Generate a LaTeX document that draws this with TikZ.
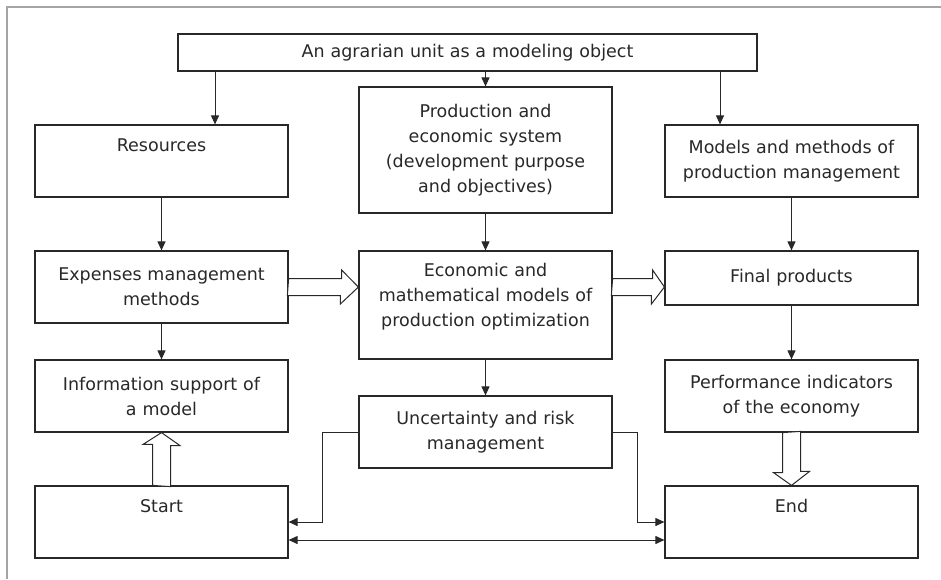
\documentclass[tikz,border=0pt]{standalone}
\usepackage{fontspec}
\setmainfont{DejaVu Sans}
\usetikzlibrary{arrows.meta}
\definecolor{frameGray}{RGB}{165,165,165}
\definecolor{lineBlack}{RGB}{40,40,40}

\begin{document}
\begin{tikzpicture}[x=1pt, y=1pt,
    box/.style={draw=lineBlack, line width=1.2pt, minimum width=253pt, minimum height=72pt,
        text width=240pt, align=center, inner sep=0pt, text=lineBlack,
        font=\fontsize{17.5}{25}\selectfont},
    arr/.style={->, >={Triangle[length=9pt,width=8pt]}, line width=1pt, draw=lineBlack},
    hollow/.style={draw=lineBlack, line width=1pt, fill=white}]
    \useasboundingbox (0,0) rectangle (941,-579);
    % frame
    \draw[frameGray, line width=2pt] (7,-579) -- (7,-7) -- (941,-7);

    % top row
    \node[box, minimum width=579pt, minimum height=37pt, text width=560pt] (unit) at (467.5,-52.5) {An agrarian unit as a modeling object};
    \node[box] (res) at (161.5,-161) {Resources\\\strut};
    \node[box, minimum height=126pt] (prod) at (485.5,-150) {Production and\\economic system\\(development purpose\\and objectives)};
    \node[box] (meth) at (791.5,-161) {Models and methods of\\production management};

    % middle row
    \node[box] (exp) at (161.5,-287) {Expenses management\\methods};
    \node[box, minimum height=108pt] (opt) at (485.5,-305) {Economic and\\mathematical models of\\production optimization\\[-12pt]\strut};
    \node[box, minimum height=54pt] (final) at (791.5,-278) {Final products};

    % lower rows
    \node[box] (info) at (161.5,-396) {Information support of\\a model};
    \node[box] (risk) at (485.5,-432) {Uncertainty and risk\\management};
    \node[box] (perf) at (791.5,-396) {Performance indicators\\of the economy};
    \node[box] (start) at (161.5,-522) {Start\\\strut};
    \node[box] (finish) at (791.5,-522) {End\\\strut};

    % arrows from the top box
    \draw[arr] ([xshift=53.5pt]res.north |- unit.south) -- ([xshift=53.5pt]res.north);
    \draw[arr] (unit.south -| prod.north) -- (prod.north);
    \draw[arr] ([xshift=-71.5pt]meth.north |- unit.south) -- ([xshift=-71.5pt]meth.north);

    % vertical arrows
    \draw[arr] (res) -- (exp);
    \draw[arr] (prod) -- (opt);
    \draw[arr] (meth) -- (final);
    \draw[arr] (exp) -- (info);
    \draw[arr] (opt) -- (risk);
    \draw[arr] (final) -- (perf);

    % hollow arrows
    \draw[hollow] ([yshift=8.5pt]exp.east) -- ++(53,0) -- ++(0,8.5) -- (opt.west |- exp.east) -- ++(-18,-17) -- ++(0,8.5) -- ++(-53,0) -- cycle;
    \draw[hollow] ([yshift=8.5pt]opt.east |- exp.east) -- ++(40,0) -- ++(0,8.5) -- (final.west |- exp.east) -- ++(-13,-17) -- ++(0,8.5) -- ++(-40,0) -- cycle;
    \draw[hollow] ([xshift=-9pt]start.north) -- ++(0,41) -- ++(-9.5,0) -- (info.south) -- ++(18.5,-13) -- ++(-9.5,0) -- ++(0,-41) -- cycle;
    \draw[hollow] ([xshift=-9pt]perf.south) -- ++(0,-40) -- ++(-9,0) -- (finish.north) -- ++(18,14) -- ++(-9,0) -- ++(0,40) -- cycle;

    % risk feedback and start/end link
    \draw[arr] (risk.west) -- ++(-36,0) |- (start.east);
    \draw[arr] (risk.east) -- ++(25,0) |- (finish.west);
    \draw[arr, <->] ([yshift=-18pt]start.east) -- ([yshift=-18pt]finish.west);
\end{tikzpicture}
\end{document}
